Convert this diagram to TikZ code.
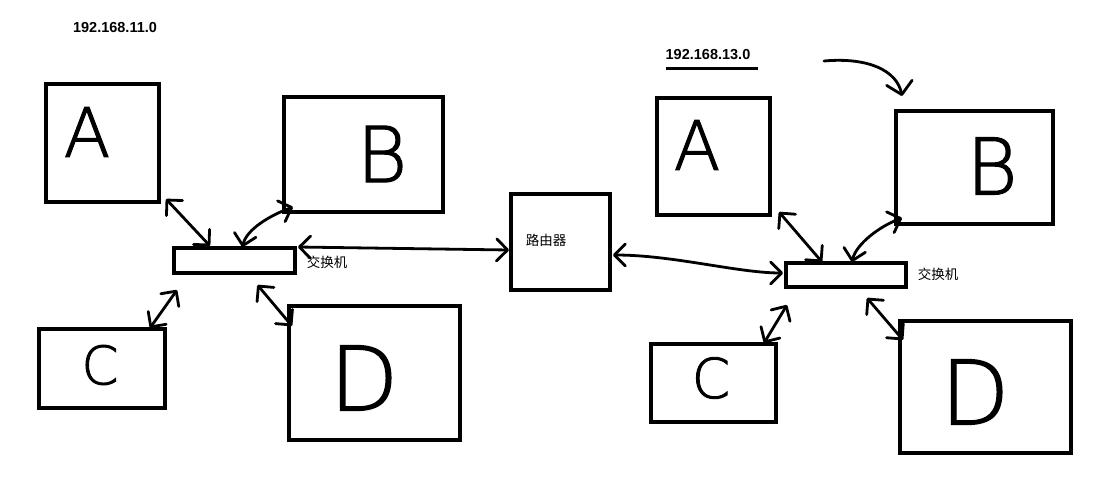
\documentclass[tikz,border=0pt]{standalone}
\usepackage{fontspec}
\setmainfont{Liberation Sans}
\newfontfamily\cjk{Noto Sans CJK SC}
\newfontfamily\handfont[FakeBold=1.6]{DejaVuSans-ExtraLight.ttf}
\usetikzlibrary{calc,arrows.meta}

\begin{document}
\begin{tikzpicture}[x=1pt,y=-1pt,
  host/.style={draw,line width=3.4pt,inner sep=0pt,outer sep=0pt},
  sw/.style={draw,line width=3.2pt,inner sep=0pt,outer sep=0pt,minimum width=120pt,minimum height=24pt},
  hand/.style={font=\handfont\fontsize{#1}{#1}\selectfont,inner sep=0pt},
  ip/.style={font=\bfseries\fontsize{14.5}{16}\selectfont,inner sep=0pt},
  cn/.style={font=\cjk\fontsize{13.5}{15}\selectfont,inner sep=0pt},
  link/.style={line width=2.8pt,line cap=round,
    {Straight Barb[length=11pt,width=22pt,round]}-{Straight Barb[length=11pt,width=22pt,round]}}]
  \useasboundingbox (0,0) rectangle (1107,487);

  \node[ip] (ipL) at (115,28) {192.168.11.0};
  \node[host,minimum width=113pt,minimum height=118pt] (hostA1) at (102.5,143) {};
  \node[host,minimum width=159pt,minimum height=115pt] (hostB1) at (363.5,154.5) {};
  \node[host,minimum width=126pt,minimum height=79pt]  (hostC1) at (102,368.5) {};
  \node[host,minimum width=171pt,minimum height=134pt] (hostD1) at (374.5,373) {};
  \node[sw,minimum width=121pt,minimum height=25pt] (switch1) at (234.5,260.5) {};
  \node[cn] (swlab1) at (327,262) {交换机};
  \node[hand=68] (letA1) at (87,132) {A};
  \node[hand=77] (letB1) at (382,154) {B};
  \node[hand=53] (letC1) at (100,365) {C};
  \node[hand=89] (letD1) at (364,378) {D};

  \node[host,minimum width=99pt,minimum height=96pt] (router) at (560.5,242) {};
  \node[cn] (rtlab) at (546,240) {路由器};

  \node[ip] (ipR) at (708,55) {192.168.13.0};
  \node[host,minimum width=113pt,minimum height=117pt] (hostA2) at (713.5,156.5) {};
  \node[host,minimum width=157pt,minimum height=113pt] (hostB2) at (974.5,167.5) {};
  \node[host,minimum width=125pt,minimum height=78pt]  (hostC2) at (713.5,383) {};
  \node[host,minimum width=171pt,minimum height=132pt] (hostD2) at (985.5,387) {};
  \node[sw] (switch2) at (846,275) {};
  \node[cn] (swlab2) at (938,274) {交换机};
  \node[hand=68] (letA2) at (697,145) {A};
  \node[hand=78] (letB2) at (992,166) {B};
  \node[hand=55] (letC2) at (711,378) {C};
  \node[hand=89] (letD2) at (975,392) {D};
  \coordinate (curvS) at (824,61);
  \coordinate (curvE) at (902,96);

  \draw[line width=2.6pt] ($(ipR.south west)+(1,8)$) -- ($(ipR.south east)+(7,8)$);

  \draw[link] ($(hostA1.south east)+(7,-3)$) -- ($(switch1.north west)+(36,-2)$);
  \draw[link] ($(hostB1.south west)+(9,-5)$) .. controls +(-22,8) and +(4,-18) .. ($(switch1.north)+(8,-1)$);
  \draw[link] ($(hostC1.north east)+(-15,-1)$) -- ($(switch1.south west)+(3,17)$);
  \draw[link] ($(switch1.south)+(23,12)$) -- ($(hostD1.north west)+(3,20)$);
  \draw[link] ($(switch1.north east)+(3,-1)$) -- ($(router.west)+(-2,8)$);
  \draw[link] ($(router.east)+(3,13)$) .. controls +(60,0) and +(-45,0) .. ($(switch2.west)+(-3,-2)$);

  \draw[link] ($(hostA2.south east)+(9,-3)$) -- ($(switch2.north west)+(36,-1)$);
  \draw[link] ($(hostB2.south west)+(6,-6)$) .. controls +(-22,8) and +(4,-18) .. ($(switch2.north)+(6,-1)$);
  \draw[link] ($(hostC2.north east)+(-12,-1)$) -- ($(switch2.south west)+(1,18)$);
  \draw[link] ($(switch2.south)+(21,11)$) -- ($(hostD2.north west)+(3,19)$);
  \draw[line width=2.8pt,line cap=round,-{Straight Barb[length=12pt,width=26pt,round]}]
    (curvS) .. controls +(45,-4) and +(-5,-25) .. (curvE);
\end{tikzpicture}
\end{document}
